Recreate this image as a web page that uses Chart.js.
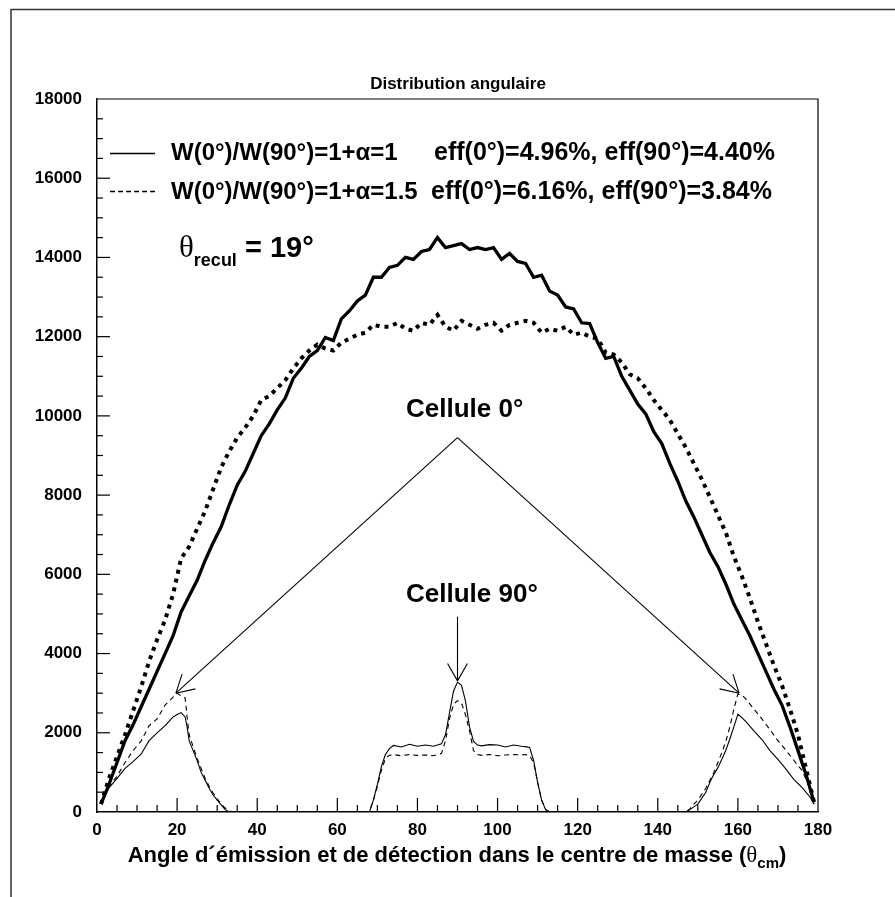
<!DOCTYPE html>
<html>
<head>
<meta charset="utf-8">
<script src="https://cdn.jsdelivr.net/npm/chart.js@4.4.0/dist/chart.umd.min.js"></script>
<style>
  html, body { margin: 0; padding: 0; background: #fff; }
</style>
</head>
<body>
<canvas id="grafico" width="895" height="897"></canvas>
<script>
// angulos (theta cm) de las curvas gruesas
var angulos = [1,3,5,7,9,11,13,15,17,19,21,23,25,27,29,31,33,35,37,39,
  41,43,45,47,49,51,53,55,57,59,61,63,65,67,69,71,73,75,77,79,
  81,83,85,87,89,91,93,95,97,99,101,103,105,107,109,111,113,115,117,119,
  121,123,125,127,129,131,133,135,137,139,141,143,145,147,149,151,153,155,157,159,
  161,163,165,167,169,171,173,175,177,179];

// distribucion total, 1+alfa=1 (trazo grueso continuo)
var totalA1 = [200,700,1250,1800,2200,2650,3100,3550,4000,4450,
  5050,5450,5850,6350,6800,7200,7750,8250,8600,9050,
  9500,9800,10150,10450,10950,11200,11500,11650,11980,11900,
  12450,12650,12900,13050,13500,13500,13750,13800,14000,13950,
  14150,14200,14500,14250,14300,14350,14200,14250,14200,14250,
  13950,14100,13900,13850,13500,13550,13150,13050,12750,12700,
  12350,12330,11850,11450,11500,11000,10650,10300,10050,9600,
  9300,8800,8350,7850,7450,7000,6550,6200,5750,5250,
  4850,4450,4000,3550,3100,2700,2150,1550,950,250];

// distribucion total, 1+alfa=1.5 (trazo grueso punteado)
var totalA15 = [200,850,1400,1950,2550,3150,3800,4350,4850,5500,
  6400,6700,7150,7600,8150,8700,9100,9450,9700,10000,
  10400,10500,10700,10900,11200,11450,11650,11800,11700,11650,
  11850,11950,12050,12100,12300,12250,12250,12350,12200,12150,
  12350,12300,12550,12250,12150,12400,12300,12200,12300,12350,
  12150,12300,12350,12400,12350,12100,12200,12150,12250,12050,
  12100,12000,11950,11600,11550,11350,11050,10950,10700,10400,
  10150,9900,9550,9200,8800,8400,7950,7500,7050,6450,
  5950,5400,4800,4250,3700,3200,2600,1950,1100,250];

// angulos de las celulas (0 y 90 grados)
var angulosCel = [1,3,5,7,9,11,13,15,17,19,20,21,22,22.5,23,
  24,25,26,27,28,29,30,31,32,33,34,
  67,68,69,70,71,72,73,74,76,78,80,82,84,86,
  87,88,89,90,91,92,93,94,95,96,98,100,102,104,106,
  107,108,109,110,111,112,113,
  146,147,148,149,150,151,152,153,154,155,156,157,158,159,160,161,162,
  164,166,168,170,172,174,176,178,179];

// detectado en las celulas, 1+alfa=1 (trazo fino continuo)
var celA1 = [200,610,850,1100,1270,1460,1800,2000,2180,2400,2460,2510,2400,2150,1800,
  1550,1300,1000,800,600,430,300,180,60,0,0,
  0,0,300,700,1150,1450,1600,1680,1640,1710,1660,1690,1660,1720,
  1950,2500,3050,3280,3200,2800,2150,1780,1690,1670,1700,1690,1640,1690,1660,
  1650,1630,1300,750,300,60,0,
  0,0,60,130,200,350,500,750,950,1120,1330,1560,1850,2150,2470,2380,2280,
  2050,1830,1550,1330,1080,820,620,380,200];

// detectado en las celulas, 1+alfa=1.5 (trazo fino discontinuo)
var celA15 = [200,650,900,1250,1550,1790,2180,2350,2700,2900,3000,2930,2880,2400,1950,
  1650,1350,1100,850,650,480,330,200,100,30,0,
  0,0,300,650,1050,1350,1430,1450,1420,1450,1430,1440,1420,1480,
  1800,2350,2720,2810,2750,2450,2050,1550,1450,1430,1450,1420,1440,1450,1440,
  1450,1420,1250,750,300,60,0,
  0,0,80,200,300,450,600,800,1000,1250,1500,1790,2150,2600,2980,2950,2850,
  2600,2350,2080,1800,1560,1300,1050,600,200];

var ticksX = [0,20,40,60,80,100,120,140,160,180];
var ticksY = [0,2000,4000,6000,8000,10000,12000,14000,16000,18000];

// flechas: [desde x, desde y, hasta x, hasta y]
var flechas = [[90,9450,19.7,3000],[90,9450,160.3,3000],[90,4930,90,3310]];

var SANS = '"Liberation Sans", Arial, sans-serif';

function pares(xs, ys){
  var out = [];
  for (var i = 0; i < xs.length; i++) out.push({x: xs[i], y: ys[i]});
  return out;
}

function linea(ctx, x1, y1, x2, y2){
  ctx.beginPath(); ctx.moveTo(x1, y1); ctx.lineTo(x2, y2); ctx.stroke();
}

// dibuja trozos de texto seguidos [texto, fuente, desplazamiento y]
function textoRico(ctx, x, y, partes, centrado){
  var total = 0, i;
  for (i = 0; i < partes.length; i++){ ctx.font = partes[i][1]; total += ctx.measureText(partes[i][0]).width; }
  if (centrado) x = x - total / 2;
  ctx.textAlign = 'left';
  ctx.textBaseline = 'alphabetic';
  for (i = 0; i < partes.length; i++){
    ctx.font = partes[i][1];
    ctx.fillText(partes[i][0], x, y + (partes[i][2] || 0));
    x += ctx.measureText(partes[i][0]).width;
  }
}

var marco = {
  id: 'marco',
  afterDraw: function(chart){
    var ctx = chart.ctx, a = chart.chartArea, sx = chart.scales.x, sy = chart.scales.y;
    ctx.save();
    ctx.fillStyle = '#000';
    // marco de la pagina
    ctx.strokeStyle = '#333'; ctx.lineWidth = 1.5;
    ctx.beginPath(); ctx.moveTo(11, 897); ctx.lineTo(11, 9.5); ctx.lineTo(895, 9.5); ctx.stroke();
    // caja del grafico
    ctx.strokeStyle = '#000'; ctx.lineWidth = 1.2;
    ctx.beginPath(); ctx.moveTo(a.left, a.top); ctx.lineTo(a.right, a.top); ctx.lineTo(a.right, a.bottom); ctx.stroke();
    // marcas hacia adentro
    ctx.lineWidth = 1.2;
    for (var v = 5; v < 180; v += 5){
      var px = sx.getPixelForValue(v);
      linea(ctx, px, a.bottom, px, a.bottom - (v % 20 == 0 ? 14 : 7));
    }
    for (var w = 500; w < 18000; w += 500){
      var py = sy.getPixelForValue(w);
      linea(ctx, a.left, py, a.left + (w % 2000 == 0 ? 13 : 6), py);
    }

    // titulo
    ctx.font = 'bold 17px ' + SANS;
    ctx.textAlign = 'center';
    ctx.fillText('Distribution angulaire', 458, 89);

    // leyenda
    ctx.lineWidth = 1.5;
    linea(ctx, 110, 153.5, 155, 153.5);
    ctx.setLineDash([5, 3]);
    linea(ctx, 110, 191.5, 155, 191.5);
    ctx.setLineDash([]);
    var fw = 'bold 24px ' + SANS, fe = 'bold 25px ' + SANS;
    textoRico(ctx, 171, 160, [['W(0°)/W(90°)=1+α=1', fw]]);
    textoRico(ctx, 434, 160, [['eff(0°)=4.96%, eff(90°)=4.40%', fe]]);
    textoRico(ctx, 171, 198.5, [['W(0°)/W(90°)=1+α=1.5', fw]]);
    textoRico(ctx, 431, 198.5, [['eff(0°)=6.16%, eff(90°)=3.84%', fe]]);

    // theta recul
    textoRico(ctx, 179, 257, [['θ', '31px "Liberation Serif", serif'], ['recul', 'bold 18px ' + SANS, 9], [' = 19°', 'bold 29px ' + SANS]]);

    // celulas
    ctx.font = 'bold 26px ' + SANS;
    ctx.textAlign = 'left';
    ctx.fillText('Cellule 0°', 406, 417);
    ctx.fillText('Cellule 90°', 406, 602);

    // flechas
    ctx.lineWidth = 1.1;
    flechas.forEach(function(f){
      var x1 = sx.getPixelForValue(f[0]), y1 = sy.getPixelForValue(f[1]);
      var x2 = sx.getPixelForValue(f[2]), y2 = sy.getPixelForValue(f[3]);
      linea(ctx, x1, y1, x2, y2);
      var ang = Math.atan2(y1 - y2, x1 - x2);
      [-0.52, 0.52].forEach(function(d){
        linea(ctx, x2, y2, x2 + 20 * Math.cos(ang + d), y2 + 20 * Math.sin(ang + d));
      });
    });

    // titulo eje x
    textoRico(ctx, 457, 862, [
      ['Angle d´émission et de détection dans le centre de masse (', 'bold 22px ' + SANS],
      ['θ', '23px "Liberation Serif", serif'],
      ['cm', 'bold 15px ' + SANS, 6],
      [')', 'bold 22px ' + SANS]
    ], true);
    ctx.restore();
  }
};

var ctx = document.getElementById('grafico').getContext('2d');
var grafico = new Chart(ctx, {
  type: 'line',
  data: {
    datasets: [
      { data: pares(angulos, totalA1), borderColor: '#000', borderWidth: 3.3, pointRadius: 0, tension: 0 },
      { data: pares(angulos, totalA15), borderColor: '#000', borderWidth: 4, borderDash: [4, 5], pointRadius: 0, tension: 0 },
      { data: pares(angulosCel, celA1), borderColor: '#000', borderWidth: 1.1, pointRadius: 0, tension: 0 },
      { data: pares(angulosCel, celA15), borderColor: '#000', borderWidth: 1.1, borderDash: [5, 4], pointRadius: 0, tension: 0 }
    ]
  },
  options: {
    responsive: false,
    animation: false,
    devicePixelRatio: 1,
    layout: { padding: { top: 99, right: 77, left: 0, bottom: 0 } },
    plugins: { legend: { display: false }, tooltip: { enabled: false } },
    scales: {
      x: {
        type: 'linear', min: 0, max: 180,
        afterFit: function(s){ s.height = 85; },
        afterBuildTicks: function(s){ s.ticks = ticksX.map(function(v){ return {value: v}; }); },
        grid: { display: false, drawTicks: false },
        border: { display: true, color: '#000', width: 1.5 },
        ticks: { color: '#000', font: { family: SANS, size: 17, weight: 'bold' }, padding: 8, maxRotation: 0, autoSkip: false,
          callback: function(v){ return String(v); } }
      },
      y: {
        min: 0, max: 18000,
        afterFit: function(s){ s.width = 97; },
        afterBuildTicks: function(s){ s.ticks = ticksY.map(function(v){ return {value: v}; }); },
        grid: { display: false, drawTicks: false },
        border: { display: true, color: '#000', width: 1.5 },
        ticks: { color: '#000', font: { family: SANS, size: 17, weight: 'bold' }, padding: 15, autoSkip: false,
          callback: function(v){ return String(v); } }
      }
    }
  },
  plugins: [marco]
});
</script>
</body>
</html>
